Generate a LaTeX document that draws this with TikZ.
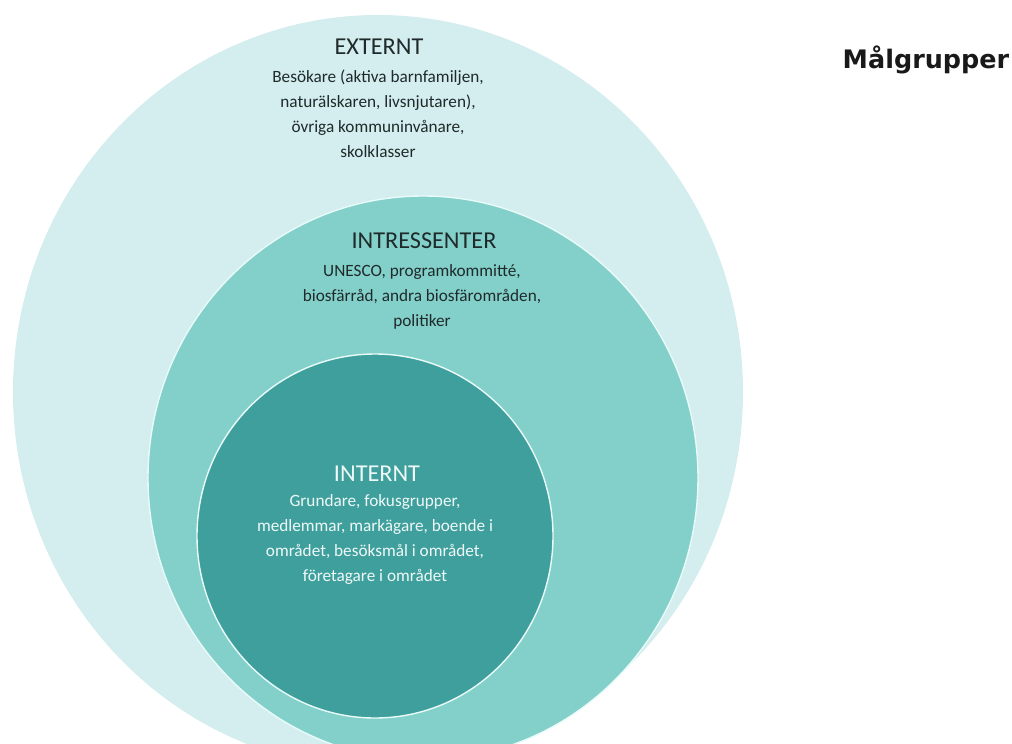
\documentclass[tikz,border=0pt]{standalone}
\usepackage{fontspec}
\setmainfont{Carlito}
\newfontfamily\titlesans{DejaVu Sans}

\definecolor{extfill}{HTML}{D4EDEE}
\definecolor{intrfill}{HTML}{83D0CA}
\definecolor{intfill}{HTML}{3F9F9C}
\definecolor{rimline}{HTML}{E9FBF9}
\definecolor{darktext}{HTML}{1F2A2A}
\definecolor{lighttext}{HTML}{EEF9F8}

\tikzset{
  rim/.style={draw=rimline, line width=0.8pt},
  ringhead/.style={anchor=base, inner sep=0pt, text=darktext,
    font=\fontsize{13.8}{16}\selectfont},
  % base of a multi-line node sits on its last line
  ringtext/.style={anchor=base, inner sep=0pt, align=center, text=darktext,
    font=\fontsize{9.8}{14.2}\selectfont},
}

\begin{document}
\begin{tikzpicture}[x=0.02cm, y=-0.02cm]
    \useasboundingbox (0,0) rectangle (1012,744);
    \clip (0,0) rectangle (1012,744);

    % Rings, outermost first
    \fill[extfill] (378,392) ellipse [x radius=365, y radius=377];
    \filldraw[fill=intrfill, rim] (423,478) ellipse [x radius=275, y radius=282];
    \filldraw[fill=intfill, rim] (375,536) ellipse [x radius=178, y radius=182];

    % Outer ring
    \node[ringhead] (ext-head) at (379,54) {EXTERNT};
    \node[ringtext] (ext-text) at (378,157) {Besökare (aktiva barnfamiljen,\\
        naturälskaren, livsnjutaren),\\ övriga kommuninvånare,\\ skolklasser};

    % Middle ring
    \node[ringhead] (intr-head) at (424,248) {INTRESSENTER};
    \node[ringtext] (intr-text) at (422,326) {UNESCO, programkommitté,\\
        biosfärråd, andra biosfärområden,\\ politiker};

    % Inner ring
    \node[ringhead, text=lighttext] (int-head) at (377,481) {INTERNT};
    \node[ringtext, text=lighttext] (int-text) at (375,581) {Grundare, fokusgrupper,\\
        medlemmar, markägare, boende i\\ området, besöksmål i området,\\ företagare i området};

    % Title
    \node[anchor=base, inner sep=0pt, text=black!90,
        font=\titlesans\bfseries\fontsize{14.5}{17}\selectfont] (title) at (926,68) {Målgrupper};
\end{tikzpicture}
\end{document}
